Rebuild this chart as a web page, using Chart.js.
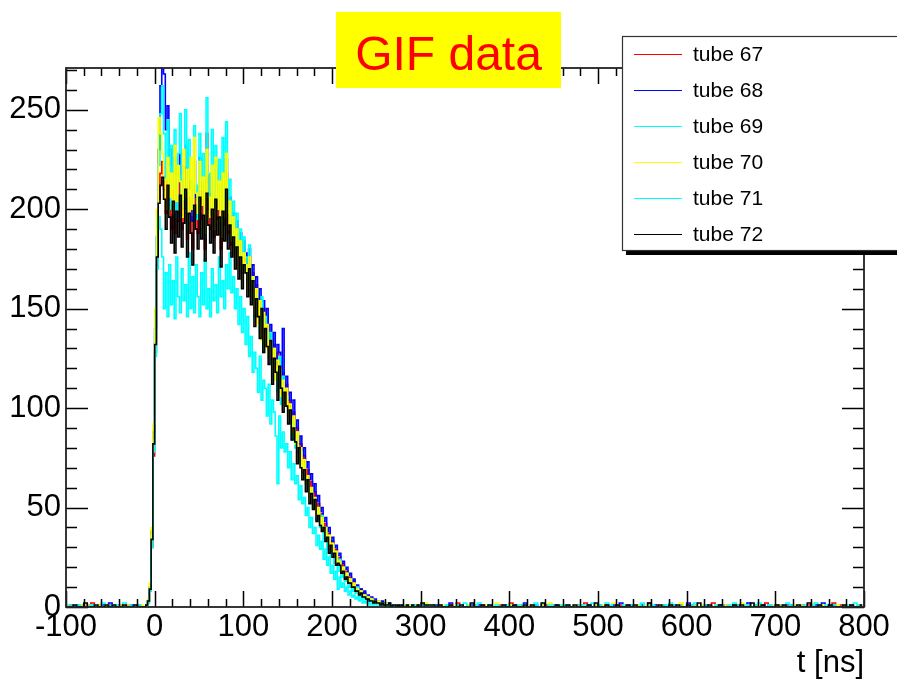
<!DOCTYPE html>
<html><head><meta charset="utf-8">
<script src="https://cdn.jsdelivr.net/npm/chart.js@4.4.0/dist/chart.umd.min.js"></script>
<style>html,body{margin:0;padding:0;background:#fff;overflow:hidden;}canvas{display:block;}</style>
</head><body>
<canvas id="c" width="897" height="682"></canvas>
<script>
// histogram binning of t [ns]: 4 ns bins before -12 ns and after 300 ns, 2 ns bins in between
const histMin = -100, histMax = 800;
const binSegments = [
  { start: -100, width: 4, count: 22 },
  { start: -12,  width: 2, count: 156 },
  { start: 300,  width: 4, count: 125 }
];
const xTickStep = 100, yTickStep = 50, yMax = 271;
const chartTitle = 'GIF data';
const xTitle = 't [ns]';
const seriesLabels = ['tube 67', 'tube 68', 'tube 69', 'tube 70', 'tube 71', 'tube 72'];
const seriesColors = ['#ff0000', '#0000ff', '#00ffff', '#ffff00', '#00ffff', '#000000'];

// counts per bin
const tube67 = [
 0,1,0,0,1,0,0,2,0,1,0,0,1,0,0,1,0,1,0,0,1,0,
 0,1,2,8,30,76,128,172,205,218,
 224,210,198,215,202,190,212,188,205,194,
 214,190,200,220,185,206,196,180,210,198,
 188,212,195,205,180,238,200,190,208,186,
 212,195,204,180,206,192,218,188,198,182,
 194,178,188,172,184,168,180,174,162,176,
 160,168,152,162,146,156,138,150,134,146,
 130,138,122,132,118,128,124,110,118,106,
 112,100,104,92,98,86,90,78,82,72,
 76,66,69,60,63,55,58,50,52,45,
 47,40,42,35,37,31,33,28,29,24,
 25,20,22,17,18,15,15,12,13,10,
 10,8,9,6,7,5,5,4,4,3,
 3,3,2,2,2,1,2,1,1,1,
 1,0,1,1,0,1,0,1,0,0,
 1,0,0,1,0,0,
 1,0,1,0,0,1,0,0,1,0,2,0,0,1,0,0,0,1,0,1,0,0,1,0,0,
 2,0,0,1,0,0,1,0,0,0,1,0,1,0,0,1,0,0,0,1,0,2,0,0,1,
 0,0,1,0,0,0,1,0,1,0,0,1,0,0,2,0,1,0,0,0,1,0,0,1,0,
 0,1,0,0,0,1,0,2,0,0,1,0,0,1,0,0,0,1,0,1,0,0,2,0,0,
 1,0,0,1,0,0,0,1,0,1,0,0,1,0,0,0,2,0,1,0,0,1,0,0,1
];
const tube68 = [
 1,0,0,1,0,0,1,0,0,0,1,0,2,0,0,1,0,0,1,0,1,0,
 0,1,3,10,38,88,140,186,230,262,
 280,268,240,252,222,230,212,226,205,218,
 228,200,215,232,198,220,210,194,224,206,
 196,226,204,214,190,222,208,198,216,192,
 220,200,212,188,216,198,225,194,206,188,
 198,182,194,176,188,172,184,178,166,180,
 164,172,156,166,150,160,142,154,138,150,
 134,142,126,138,122,132,128,114,140,110,
 116,104,108,96,104,90,94,82,86,76,
 80,70,73,64,67,58,62,53,56,48,
 50,43,45,38,40,33,35,30,31,26,
 27,22,23,19,20,16,17,13,14,11,
 11,9,9,7,8,6,6,5,5,4,
 4,3,3,2,3,2,2,1,2,1,
 1,1,1,0,1,0,1,0,0,1,
 0,0,1,0,0,1,
 1,1,0,0,1,0,0,0,2,0,1,0,0,0,1,0,1,0,0,1,0,0,0,1,0,
 0,1,0,0,2,0,0,1,0,1,0,0,0,1,0,0,1,0,0,0,1,0,1,0,0,
 1,0,0,0,1,0,2,0,0,1,0,0,1,0,0,0,1,0,1,0,0,1,0,0,0,
 2,0,1,0,0,1,0,0,0,1,0,1,0,0,1,0,0,2,0,0,0,1,0,1,0,
 0,1,0,0,1,0,0,1,0,0,0,1,0,2,0,0,1,0,0,1,0,0,0,1,0
];
const tube69 = [
 0,0,1,0,1,0,0,1,0,1,0,0,0,1,0,0,2,0,0,1,0,0,
 0,1,3,9,36,84,136,182,222,248,
 262,238,215,245,200,232,210,240,196,228,
 248,205,222,250,190,235,215,200,242,212,
 195,238,210,228,186,256,218,200,240,196,
 232,205,225,190,236,200,244,198,215,186,
 204,182,198,176,190,170,186,176,160,182,
 158,166,146,160,150,138,156,128,146,134,
 130,138,114,130,120,108,126,102,116,104,
 106,96,100,84,94,80,88,74,78,68,
 72,62,64,56,58,50,54,44,48,40,
 46,34,40,29,36,25,31,22,27,18,
 24,15,20,13,17,10,14,8,11,7,
 10,5,8,4,6,4,5,3,4,2,
 3,2,3,1,2,1,2,1,1,0,
 1,1,0,1,0,0,1,0,0,1,
 0,1,0,0,0,1,
 2,1,1,0,0,1,0,1,0,0,1,0,0,1,0,0,2,0,0,1,0,0,0,1,0,
 1,0,0,1,0,0,0,1,0,2,0,0,1,0,0,1,0,0,0,1,0,1,0,0,1,
 0,0,2,0,0,1,0,0,0,1,0,1,0,0,1,0,0,0,1,0,2,0,0,1,0,
 0,1,0,0,1,0,0,0,1,0,1,0,0,2,0,0,1,0,0,1,0,0,0,1,0,
 1,0,0,2,0,0,1,0,0,0,1,0,1,0,0,1,0,0,0,1,0,0,2,0,0
];
const tube70 = [
 1,0,0,0,1,0,1,0,0,1,0,1,0,0,0,1,0,1,0,0,0,1,
 0,1,4,12,40,92,150,200,246,238,
 228,215,200,226,206,218,198,232,204,222,
 214,196,230,206,220,190,226,200,236,208,
 198,224,202,216,188,230,206,196,222,190,
 226,200,214,186,218,196,228,190,204,184,
 196,176,190,170,184,164,178,172,160,176,
 156,166,148,160,142,154,134,148,130,142,
 126,134,118,130,114,124,120,106,114,102,
 110,96,102,88,96,82,88,74,80,68,
 74,62,66,56,60,52,55,46,50,42,
 45,38,40,33,36,29,32,26,28,22,
 23,18,20,16,17,13,14,11,12,9,
 9,7,8,6,6,5,5,4,4,3,
 3,2,3,2,2,1,1,2,1,1,
 0,1,1,0,1,0,0,1,0,0,
 1,0,0,1,0,0,
 2,2,1,1,0,0,1,0,0,1,0,0,0,1,0,1,0,0,1,0,0,2,0,0,0,
 1,0,1,0,0,0,1,0,0,1,0,2,0,0,1,0,0,0,1,0,1,0,0,0,1,
 0,1,0,0,2,0,0,1,0,0,0,1,0,1,0,0,0,1,0,0,1,0,0,2,0,
 0,0,1,0,1,0,0,0,1,0,0,1,0,0,0,2,0,1,0,0,1,0,0,0,1,
 0,1,0,0,0,1,0,1,0,0,2,0,0,1,0,0,0,1,0,1,0,0,0,1,0
];
const tube71 = [
 0,1,0,1,0,0,0,1,0,0,2,0,1,0,1,0,0,0,1,0,1,0,
 0,1,2,8,30,78,126,170,196,190,
 176,150,168,146,172,152,164,145,176,156,
 148,170,154,162,146,178,150,166,148,172,
 156,146,168,152,175,150,160,146,170,154,
 162,148,176,156,164,150,172,160,178,158,
 166,150,160,142,156,138,150,132,146,126,
 136,118,128,120,108,126,104,114,110,96,
 112,92,104,98,86,62,96,80,88,78,
 82,70,78,64,72,62,66,54,61,52,
 55,46,50,40,45,37,40,31,36,29,
 33,24,29,21,25,17,21,14,18,9,
 15,10,12,8,10,6,8,5,6,4,
 5,3,4,2,3,2,3,1,2,1,
 2,1,1,1,1,0,1,1,0,1,
 0,1,0,0,1,0,0,0,1,0,
 0,0,1,0,0,0,
 1,1,0,1,0,0,0,1,0,0,1,0,2,0,0,1,0,0,0,1,0,1,0,0,1,
 0,0,1,0,1,0,0,2,0,0,0,1,0,0,1,0,1,0,0,0,1,0,0,2,0,
 1,0,0,1,0,0,0,1,0,1,0,0,2,0,0,1,0,0,0,1,0,1,0,0,0,
 1,0,2,0,0,1,0,0,1,0,0,0,1,0,1,0,0,1,0,0,2,0,0,1,0,
 0,0,1,0,1,0,0,0,1,0,0,2,0,0,1,0,1,0,0,0,1,0,0,1,0
];
const tube72 = [
 0,0,1,0,0,2,0,0,1,0,0,1,0,1,0,0,1,0,0,1,0,0,
 0,1,3,9,34,82,132,176,203,212,
 216,205,190,212,196,183,204,178,199,186,
 207,181,193,210,176,198,188,172,202,190,
 180,206,185,197,174,208,192,183,200,178,
 205,187,196,171,199,184,210,180,192,176,
 186,170,181,165,176,160,172,168,156,170,
 152,164,141,155,146,135,150,128,140,131,
 122,134,112,125,118,104,121,110,98,108,
 101,92,99,84,90,83,72,80,70,64,
 69,58,64,52,57,49,54,43,46,41,
 38,40,33,35,27,31,25,27,21,22,
 21,17,18,14,15,12,12,10,10,8,
 8,6,7,5,5,4,4,3,3,2,
 3,2,2,1,2,1,1,1,2,0,
 1,1,0,1,0,1,0,0,1,0,
 0,1,0,0,1,0,
 2,1,1,1,0,1,0,0,1,0,0,1,0,0,2,0,0,1,0,1,0,0,0,1,0,
 0,1,0,0,1,0,1,0,0,2,0,0,0,1,0,0,1,0,1,0,0,0,1,0,2,
 0,0,1,0,0,1,0,0,1,0,1,0,0,0,2,0,0,1,0,0,1,0,1,0,0,
 1,0,0,2,0,0,1,0,0,1,0,0,0,1,0,1,0,0,2,0,0,1,0,0,0,
 1,0,1,0,0,0,1,0,0,2,0,0,1,0,0,1,0,0,0,1,0,1,0,0,1
];
const seriesValues = [tube67, tube68, tube69, tube70, tube71, tube72];

// bin centres from the binning definition
const binCenters = [];
binSegments.forEach(s => { for (let i = 0; i < s.count; i++) binCenters.push(s.start + s.width * (i + 0.5)); });

const FONT = '"Liberation Sans", Arimo, Helvetica, Arial, sans-serif';

const datasets = seriesValues.map((vals, k) => ({
  label: seriesLabels[k],
  data: vals.map((v, i) => ({ x: binCenters[i], y: v })),
  borderColor: seriesColors[k],
  backgroundColor: seriesColors[k],
  borderWidth: 1.6,
  stepped: 'middle',
  fill: false,
  pointRadius: 0,
  order: seriesValues.length - k
}));

const frameTicks = {
  id: 'frameTicks',
  afterDatasetsDraw(chart) {
    const { ctx, chartArea: a, scales: { x, y } } = chart;
    ctx.save();
    ctx.strokeStyle = '#000';
    ctx.lineWidth = 1.5;
    ctx.beginPath();
    for (let v = histMin; v <= histMax; v += xTickStep / 5) {
      const px = Math.round(x.getPixelForValue(v)) + 0.5;
      const L = (v % xTickStep === 0) ? 16 : 8;
      ctx.moveTo(px, a.bottom); ctx.lineTo(px, a.bottom - L);
      ctx.moveTo(px, a.top); ctx.lineTo(px, a.top + L);
    }
    for (let v = 0; v <= yMax; v += yTickStep / 5) {
      const py = Math.round(y.getPixelForValue(v)) + 0.5;
      const L = (v % yTickStep === 0) ? 22 : 11;
      ctx.moveTo(a.left, py); ctx.lineTo(a.left + L, py);
      ctx.moveTo(a.right, py); ctx.lineTo(a.right - L, py);
    }
    ctx.stroke();
    ctx.lineWidth = 1.8;
    ctx.strokeStyle = '#222';
    ctx.strokeRect(a.left, a.top, a.right - a.left, a.bottom - a.top);
    ctx.restore();
  },
  afterDraw(chart) {
    const ctx = chart.ctx;
    ctx.save();
    // title box
    ctx.fillStyle = '#ffff00';
    ctx.fillRect(336, 12, 225, 76);
    ctx.fillStyle = '#ff0000';
    ctx.font = '48px ' + FONT;
    ctx.textAlign = 'center';
    ctx.textBaseline = 'alphabetic';
    ctx.fillText(chartTitle, 448.5, 70);
    // legend box with shadow
    ctx.fillStyle = '#000';
    ctx.fillRect(626, 250, 280, 5);
    ctx.fillRect(896, 40, 10, 215);
    ctx.fillStyle = '#fff';
    ctx.fillRect(622, 36, 290, 215);
    ctx.strokeStyle = '#333';
    ctx.lineWidth = 1.2;
    ctx.strokeRect(622.5, 36.5, 290, 214);
    ctx.font = '21px ' + FONT;
    ctx.textAlign = 'left';
    ctx.textBaseline = 'middle';
    chart.data.datasets.forEach((ds, k) => {
      const yy = 54.5 + 36 * k;
      ctx.strokeStyle = ds.borderColor;
      ctx.lineWidth = 1.2;
      ctx.beginPath(); ctx.moveTo(634, yy); ctx.lineTo(682, yy); ctx.stroke();
      ctx.fillStyle = '#000';
      ctx.fillText(ds.label, 693, yy + 1);
    });
    ctx.restore();
  }
};

new Chart(document.getElementById('c'), {
  type: 'line',
  data: { datasets },
  plugins: [frameTicks],
  options: {
    responsive: false,
    animation: false,
    devicePixelRatio: 1,
    layout: { padding: { top: 68, right: 33, left: 0, bottom: 0 } },
    plugins: { legend: { display: false }, tooltip: { enabled: false }, title: { display: false } },
    scales: {
      x: {
        type: 'linear', min: histMin, max: histMax,
        ticks: { stepSize: xTickStep, includeBounds: false, autoSkip: false, maxRotation: 0,
                 font: { family: FONT, size: 31 }, color: '#000', padding: 2 },
        grid: { display: false, drawTicks: false }, border: { display: false },
        title: { display: true, text: xTitle, align: 'end', color: '#000',
                 font: { family: FONT, size: 31 }, padding: { top: 0, bottom: 0 } },
        afterFit(s) { s.height = 75; }
      },
      y: {
        type: 'linear', min: 0, max: yMax,
        ticks: { stepSize: yTickStep, includeBounds: false, font: { family: FONT, size: 31 }, color: '#000', padding: 5 },
        grid: { display: false, drawTicks: false }, border: { display: false },
        afterFit(s) { s.width = 66; }
      }
    }
  }
});
</script>
</body></html>
